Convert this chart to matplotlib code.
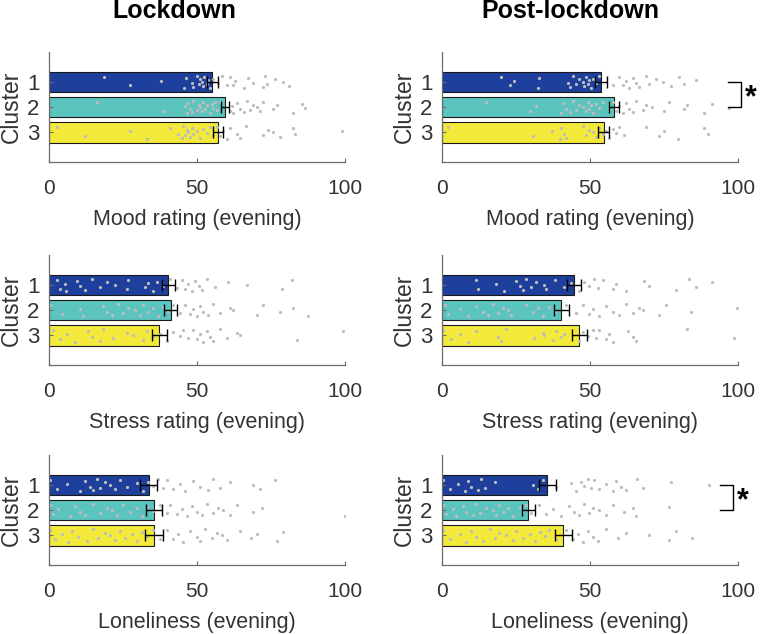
import numpy as np
import matplotlib
matplotlib.use("Agg")
from matplotlib import pyplot as plt

plt.rcParams['font.family'] = ['Liberation Sans', 'DejaVu Sans']

# column titles and row labels
periods = ["Lockdown", "Post-lockdown"]
measures = ["Mood rating (evening)", "Stress rating (evening)", "Loneliness (evening)"]
clusters = ["1", "2", "3"]
cluster_colors = ["#1E409C", "#5CC4BE", "#F2E93A"]

# bar means [measure][period][cluster]
means = [
    [[55.2, 59.4, 57.0], [53.7, 58.1, 54.6]],
    [[40.2, 41.2, 37.3], [44.6, 40.3, 46.4]],
    [[33.7, 35.5, 35.5], [35.5, 29.2, 40.9]],
]
sems = [
    [[1.8, 1.4, 1.7], [1.9, 1.6, 1.9]],
    [[2.2, 2.2, 2.4], [2.5, 2.5, 2.5]],
    [[2.8, 2.7, 3.0], [2.9, 2.2, 2.9]],
]

# individual ratings
mood_lock_c1 = [18.7, 27.4, 37.8, 45.6, 46.3, 48.2, 48.8, 49.9, 50.5, 51.0, 51.6, 52.1, 52.4, 53.3, 53.8, 54.4,
                55.5, 57.2, 58.3, 60.0, 61.1, 62.3, 62.8, 65.7, 67.3, 69.0, 72.4, 73.0, 73.5, 76.4, 79.2, 80.9]
mood_lock_c2 = [16.1, 38.9, 45.9, 46.5, 47.1, 47.6, 48.2, 48.8, 49.9, 50.5, 51.0, 51.6, 52.1, 52.7, 53.3, 54.4,
                54.9, 55.5, 56.1, 56.6, 57.8, 61.1, 61.7, 62.3, 63.4, 64.5, 65.7, 66.8, 67.9, 69.0, 70.2, 71.3,
                72.4, 75.8, 76.9, 82.5, 85.4, 86.5]
mood_lock_c3 = [2.8, 12.2, 27.4, 33.0, 40.9, 43.7, 44.8, 45.4, 45.9, 46.5, 47.1, 47.6, 48.2, 48.8, 49.9, 51.0,
                52.1, 53.3, 54.4, 55.5, 56.6, 57.8, 58.9, 60.0, 61.1, 63.4, 64.5, 66.7, 72.4, 74.1, 75.8, 78.0,
                82.5, 83.1, 99.1]
mood_post_c1 = [20.0, 23.0, 24.4, 32.4, 32.7, 42.5, 43.1, 44.2, 45.3, 46.4, 47.5, 48.1, 48.7, 49.2, 49.8, 50.3,
                50.9, 52.0, 53.1, 57.6, 59.9, 61.0, 62.1, 63.3, 64.4, 65.5, 66.6, 68.9, 70.0, 72.2, 74.5, 77.3,
                80.1, 81.8, 85.7]
mood_post_c2 = [14.9, 29.6, 31.8, 40.2, 40.8, 41.9, 43.1, 44.2, 45.3, 46.4, 47.5, 48.7, 49.2, 49.8, 50.3, 50.9,
                52.0, 53.1, 54.3, 56.5, 57.6, 58.7, 59.9, 61.0, 62.1, 63.3, 64.4, 65.5, 67.8, 68.9, 71.1, 75.1,
                76.7, 81.8, 82.9, 88.5, 91.3, 97.0]
mood_post_c3 = [2.0, 30.7, 37.2, 39.7, 40.2, 41.3, 41.9, 47.5, 48.7, 49.8, 50.9, 52.0, 53.1, 54.3, 55.4, 56.5,
                57.6, 58.7, 59.9, 61.6, 68.9, 73.4, 75.1, 79.6, 88.5, 89.7]

stress_lock_c1 = [2.6, 3.7, 5.4, 5.9, 9.3, 10.5, 12.2, 14.4, 17.2, 19.5, 22.3, 26.2, 26.8, 32.4, 33.6, 35.2,
                  36.4, 38.6, 40.9, 43.1, 44.8, 45.9, 47.1, 48.2, 49.3, 50.5, 51.6, 53.3, 56.1, 60.6, 66.8, 78.6,
                  82.0]
stress_lock_c2 = [0.3, 4.3, 10.5, 11.6, 18.4, 19.5, 21.2, 23.4, 25.1, 26.8, 29.1, 30.7, 31.9, 33.6, 35.2, 36.9,
                  38.6, 40.3, 42.0, 44.3, 45.9, 47.6, 48.8, 49.9, 51.0, 52.1, 53.8, 55.5, 57.8, 61.1, 62.3, 70.2,
                  72.4, 78.0, 82.5, 87.6]
stress_lock_c3 = [1.5, 3.7, 6.0, 8.8, 13.3, 14.4, 17.2, 18.4, 21.7, 26.2, 28.5, 31.9, 33.0, 35.2, 37.5, 39.8,
                  42.0, 44.3, 45.4, 47.1, 48.8, 49.9, 51.0, 52.1, 53.3, 54.4, 55.5, 57.8, 60.0, 63.4, 64.5, 83.7,
                  99.4]
stress_post_c1 = [11.6, 12.1, 18.3, 21.1, 25.1, 26.2, 27.3, 28.4, 30.1, 31.8, 34.6, 35.2, 38.0, 41.3, 43.6, 46.4,
                  48.1, 49.8, 51.5, 52.6, 54.3, 57.6, 58.7, 62.1, 68.3, 70.0, 79.0, 83.5, 85.7, 91.3]
stress_post_c2 = [0.9, 2.0, 6.0, 8.8, 11.6, 13.8, 15.5, 17.2, 18.9, 20.6, 22.2, 23.4, 28.4, 30.7, 32.4, 34.2,
                  36.3, 38.5, 41.9, 45.3, 47.5, 49.8, 50.9, 53.1, 55.4, 57.6, 59.9, 62.1, 64.4, 66.6, 67.8, 73.4,
                  75.7, 84.0, 99.8]
stress_post_c3 = [0.3, 3.1, 6.0, 8.8, 11.6, 18.9, 20.0, 21.7, 31.2, 34.0, 34.6, 37.4, 38.5, 40.2, 41.3, 46.4,
                  47.5, 49.2, 50.9, 52.0, 53.1, 55.4, 56.5, 57.6, 62.7, 64.4, 65.5, 82.9, 98.7]

lonely_lock_c1 = [0.3, 2.6, 6.0, 10.5, 12.2, 13.9, 15.0, 16.1, 17.2, 18.9, 20.6, 22.3, 24.0, 26.2, 29.6, 31.9,
                  33.6, 35.2, 36.9, 38.6, 39.8, 42.0, 44.3, 46.0, 48.8, 51.0, 53.8, 55.5, 57.8, 61.1, 69.0, 71.3,
                  76.4]
lonely_lock_c2 = [0.3, 1.5, 3.2, 7.1, 8.8, 10.5, 12.2, 15.0, 17.2, 19.5, 21.2, 22.9, 25.1, 27.4, 29.6, 31.3,
                  33.0, 35.2, 37.5, 39.8, 40.9, 43.1, 44.8, 46.5, 48.2, 49.9, 51.6, 53.3, 55.5, 57.2, 58.9, 61.1,
                  63.4, 69.0, 71.8, 99.9]
lonely_lock_c3 = [0.3, 2.0, 4.3, 6.5, 7.7, 9.9, 12.7, 15.0, 16.7, 18.9, 20.6, 22.3, 24.0, 25.7, 27.9, 29.6,
                  31.3, 33.0, 35.2, 37.5, 39.8, 42.0, 43.7, 45.4, 47.6, 49.9, 51.0, 52.7, 55.0, 56.6, 58.3, 60.0,
                  64.5, 68.4, 70.2, 76.9, 79.2]
lonely_post_c1 = [0.3, 2.6, 5.4, 7.6, 8.8, 9.9, 12.1, 13.3, 14.4, 17.8, 30.7, 32.4, 34.0, 38.5, 43.6, 45.3,
                  47.0, 48.1, 49.2, 50.3, 51.5, 53.1, 55.4, 57.6, 58.7, 60.4, 62.1, 66.0, 67.8, 77.3, 90.2]
lonely_post_c2 = [0.3, 1.5, 3.7, 4.8, 7.1, 8.2, 10.4, 11.6, 12.7, 14.9, 17.2, 18.3, 19.4, 20.6, 22.2, 23.9,
                  26.2, 27.3, 28.4, 30.1, 32.9, 35.2, 37.4, 40.2, 43.0, 44.7, 46.4, 48.1, 49.8, 50.9, 53.1, 55.4,
                  57.6, 61.6, 64.4, 65.5, 76.7]
lonely_post_c3 = [0.3, 2.6, 6.0, 8.2, 9.9, 11.6, 13.8, 16.1, 17.8, 19.4, 21.7, 23.9, 25.1, 27.3, 29.6, 31.3,
                  33.0, 34.7, 36.3, 38.5, 41.9, 44.2, 45.8, 47.5, 49.2, 50.9, 52.6, 55.4, 59.3, 62.1, 70.0, 76.7,
                  79.0, 84.6]

points = [
    [[mood_lock_c1, mood_lock_c2, mood_lock_c3], [mood_post_c1, mood_post_c2, mood_post_c3]],
    [[stress_lock_c1, stress_lock_c2, stress_lock_c3], [stress_post_c1, stress_post_c2, stress_post_c3]],
    [[lonely_lock_c1, lonely_lock_c2, lonely_lock_c3], [lonely_post_c1, lonely_post_c2, lonely_post_c3]],
]

# significant pairs: (measure, period, cluster a, cluster b)
sig_pairs = [(0, 1, 1, 2), (2, 1, 1, 2)]

# fixed vertical spread pattern for the dots
spread = np.array([-0.2, 0.14, -0.04, 0.24, -0.16, 0.06, 0.2, -0.24, 0.1, -0.1,
                   0.0, 0.17, -0.19, 0.08, -0.07, 0.22, -0.13, 0.03, -0.22, 0.12])

axis_col = "#6B6B6B"
text_col = "#333333"

fig = plt.figure(figsize=(7.6, 6.34), dpi=100)
lefts = [0.0645, 0.5816]
bottoms = [0.7445, 0.4243, 0.1088]
title_x = [0.230, 0.750]

for r, measure in enumerate(measures):
    for c, period in enumerate(periods):
        ax = fig.add_axes([lefts[c], bottoms[r], 0.3895, 0.174])
        ypos = np.arange(1, 4)
        ax.barh(ypos, means[r][c], height=0.8, color=cluster_colors,
                edgecolor="#1A1A1A", linewidth=0.8, zorder=1)
        for k in range(3):
            xs = np.array(points[r][c][k])
            ys = ypos[k] + np.resize(spread, len(xs))
            ax.plot(xs, ys, 'o', ms=2.3, color="#BDBDBD", mec="none", zorder=2)
        ax.errorbar(means[r][c], ypos, xerr=sems[r][c], fmt='none', ecolor="black",
                    elinewidth=1.0, capsize=4.5, capthick=1.0, zorder=3)

        ax.set_xlim(0, 100)
        ax.set_ylim(4.17, -0.2)
        ax.set_xticks([0, 50, 100])
        ax.set_yticks(ypos)
        ax.set_yticklabels(clusters)
        ax.spines[['top', 'right']].set_visible(False)
        for s in ['left', 'bottom']:
            ax.spines[s].set_color(axis_col)
            ax.spines[s].set_linewidth(0.9)
        ax.tick_params(axis='x', direction='in', length=3, color=axis_col,
                       labelsize=15, labelcolor=text_col, pad=12)
        ax.tick_params(axis='y', direction='in', length=3, color=axis_col,
                       labelsize=16, labelcolor=text_col, pad=7)
        ax.set_xlabel(measure, fontsize=15.5, color=text_col, labelpad=8)
        ax.set_ylabel("Cluster", fontsize=16.5, color=text_col, labelpad=3)

        for (mr, mc, a, b) in sig_pairs:
            if mr == r and mc == c:
                x0 = 96.5 if r == 0 else 93.8
                x1 = 101.0 if r == 0 else 98.3
                ax.plot([x0, x1, x1, x0], [a, a, b, b], color="black", lw=1.0, clip_on=False)
                ax.text(x1 + 1.2, (a + b) / 2 + 0.15, "*", fontsize=22, fontweight='bold',
                        ha='left', va='center', clip_on=False)

for c, period in enumerate(periods):
    fig.text(title_x[c], 0.971, period, fontsize=18, fontweight='bold',
             ha='center', va='baseline', color="black")

fig.savefig("out.png", dpi=100)
